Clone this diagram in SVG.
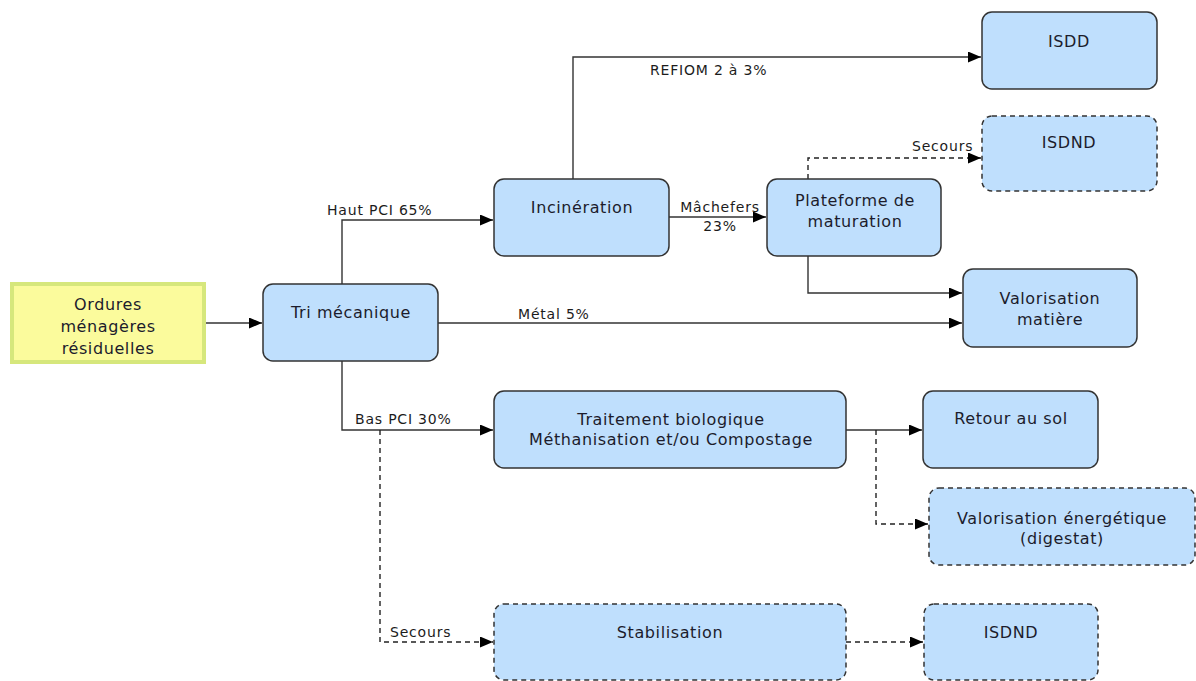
<svg xmlns="http://www.w3.org/2000/svg" width="1196" height="681" viewBox="0 0 1196 681">
<defs>
<marker id="ah" markerWidth="13" markerHeight="11" refX="13" refY="5.5" orient="auto" markerUnits="userSpaceOnUse">
<path d="M0,0 L13,5.5 L0,11 Z" fill="#000"/>
</marker>
<style>
.n{fill:#bfdffd;stroke:#333;stroke-width:1.5}
.d{stroke-dasharray:5,4}
.t{font-family:"DejaVu Sans",Verdana,sans-serif;font-size:16px;letter-spacing:0.6px;fill:#1c1c2c;text-anchor:middle}
.l{font-family:"DejaVu Sans",Verdana,sans-serif;font-size:14px;letter-spacing:0.8px;fill:#1c1c1c}
.c{fill:none;stroke:#333;stroke-width:1.4}
.cd{fill:none;stroke:#222;stroke-width:1.4;stroke-dasharray:5,4}
</style>
</defs>
<rect width="1196" height="681" fill="#fff"/>
<g id="connectors">
<path class="c" d="M205,323 H262" marker-end="url(#ah)"/>
<path class="c" d="M342,284 V220 H493" marker-end="url(#ah)"/>
<path class="c" d="M342,361 V430 H493" marker-end="url(#ah)"/>
<path class="c" d="M438,323 H962" marker-end="url(#ah)"/>
<path class="c" d="M573,179 V57 H981" marker-end="url(#ah)"/>
<path class="c" d="M669,217 H766" marker-end="url(#ah)"/>
<path class="cd" d="M808,179 V158 H981" marker-end="url(#ah)"/>
<path class="c" d="M808,256 V293 H962" marker-end="url(#ah)"/>
<path class="c" d="M846,430 H922" marker-end="url(#ah)"/>
<path class="cd" d="M876,430 V524 H928" marker-end="url(#ah)"/>
<path class="cd" d="M380,430 V642 H493" marker-end="url(#ah)"/>
<path class="cd" d="M846,642 H923" marker-end="url(#ah)"/>
<text class="l" x="327" y="215">Haut PCI 65%</text>
<text class="l" x="355" y="424">Bas PCI 30%</text>
<text class="l" x="518" y="319">Métal 5%</text>
<text class="l" x="650" y="75">REFIOM 2 à 3%</text>
<text class="l" x="720" y="212" text-anchor="middle">Mâchefers</text>
<text class="l" x="720" y="231" text-anchor="middle">23%</text>
<text class="l" x="912" y="151">Secours</text>
<text class="l" x="390" y="637">Secours</text>
</g>
<g id="ordures">
<rect x="12" y="284" width="192" height="78" fill="#fbfb9c" stroke="#d6e77c" stroke-width="4"/>
<text class="t" x="108" y="310">Ordures</text>
<text class="t" x="108" y="332">ménagères</text>
<text class="t" x="108" y="354">résiduelles</text>
</g>
<g id="tri">
<rect class="n" x="263" y="284" width="175" height="77" rx="10"/>
<text class="t" x="351" y="318">Tri mécanique</text>
</g>
<g id="incineration">
<rect class="n" x="494" y="179" width="175" height="77" rx="10"/>
<text class="t" x="582" y="213">Incinération</text>
</g>
<g id="plateforme">
<rect class="n" x="767" y="179" width="174" height="77" rx="10"/>
<text class="t" x="855" y="206">Plateforme de</text>
<text class="t" x="855" y="227">maturation</text>
</g>
<g id="isdd">
<rect class="n" x="982" y="12" width="175" height="77" rx="10"/>
<text class="t" x="1069" y="47">ISDD</text>
</g>
<g id="isdnd1">
<rect class="n d" x="982" y="116" width="175" height="75" rx="10"/>
<text class="t" x="1069" y="148">ISDND</text>
</g>
<g id="valmatiere">
<rect class="n" x="963" y="269" width="174" height="78" rx="10"/>
<text class="t" x="1050" y="304">Valorisation</text>
<text class="t" x="1050" y="325">matière</text>
</g>
<g id="traitement">
<rect class="n" x="494" y="391" width="352" height="77" rx="10"/>
<text class="t" x="671" y="425">Traitement biologique</text>
<text class="t" x="671" y="445">Méthanisation et/ou Compostage</text>
</g>
<g id="retour">
<rect class="n" x="923" y="391" width="175" height="77" rx="10"/>
<text class="t" x="1011" y="424">Retour au sol</text>
</g>
<g id="valenergie">
<rect class="n d" x="929" y="488" width="266" height="77" rx="10"/>
<text class="t" x="1062" y="524">Valorisation énergétique</text>
<text class="t" x="1062" y="544">(digestat)</text>
</g>
<g id="stabilisation">
<rect class="n d" x="494" y="604" width="352" height="76" rx="10"/>
<text class="t" x="670" y="638">Stabilisation</text>
</g>
<g id="isdnd2">
<rect class="n d" x="924" y="604" width="174" height="76" rx="10"/>
<text class="t" x="1011" y="638">ISDND</text>
</g>
</svg>
